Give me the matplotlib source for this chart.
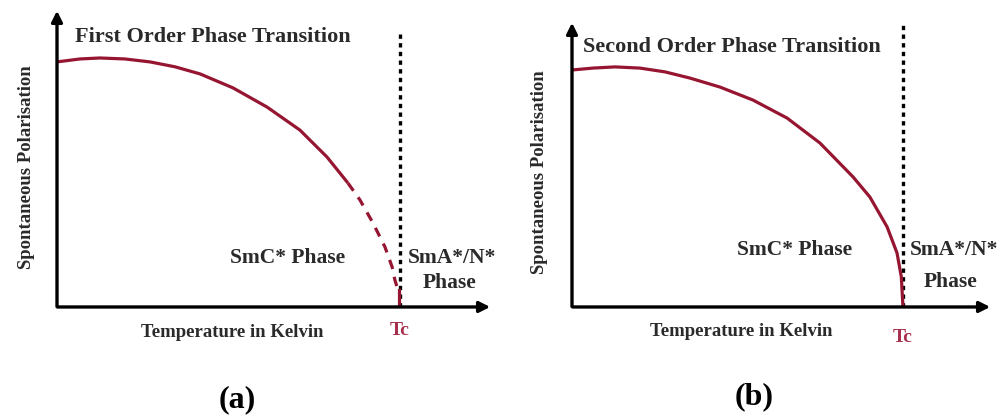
import matplotlib
matplotlib.use("Agg")
import matplotlib.pyplot as plt

plt.rcParams['font.family'] = ['Liberation Serif', 'DejaVu Serif']
plt.rcParams['font.weight'] = 'bold'

# curve samples: T / Tc  vs  Ps / Ps(0)
first_T_solid = [0.0, 0.067, 0.125, 0.198, 0.271, 0.344, 0.417, 0.513, 0.612, 0.708, 0.787, 0.848]
first_P_solid = [1.0, 1.012, 1.016, 1.012, 1.0, 0.980, 0.951, 0.894, 0.816, 0.722, 0.612, 0.506]
first_T_dash = [0.848, 0.883, 0.921, 0.956, 0.977, 0.985, 0.994]
first_P_dash = [0.506, 0.437, 0.343, 0.245, 0.163, 0.110, 0.069]
first_T_jump = [0.997, 0.997]
first_P_jump = [0.069, 0.0]

second_T = [0.0, 0.063, 0.130, 0.205, 0.281, 0.356, 0.447, 0.547, 0.650, 0.749,
            0.849, 0.900, 0.952, 0.982, 0.995, 1.0]
second_P = [1.0, 1.008, 1.013, 1.008, 0.992, 0.966, 0.928, 0.873, 0.797, 0.692,
            0.549, 0.464, 0.338, 0.228, 0.127, 0.0]

curve_col = '#961632'
tc_col = '#a8304c'
txt_col = '#2a2a2a'

fig = plt.figure(figsize=(10, 4.18), dpi=100)

def make_panel(rect, xmax, ymax, vline_top, title, title_x, title_y, lab_x, lab_y, tc_y, tag, tag_x, phase_y, phase2_y):
    ax = fig.add_axes(rect)
    ax.set_xlim(0, xmax)
    ax.set_ylim(0, ymax)
    ax.axis('off')
    # axes drawn as arrows
    ax.annotate('', xy=(xmax, 0), xytext=(-0.006, 0), annotation_clip=False,
                arrowprops=dict(arrowstyle='-|>', lw=2.4, color='black', mutation_scale=16))
    ax.annotate('', xy=(0, ymax), xytext=(0, -0.01), annotation_clip=False,
                arrowprops=dict(arrowstyle='-|>', lw=2.4, color='black', mutation_scale=16))
    ax.plot([1.0, 1.0], [0, vline_top], ls=(0, (1.3, 1.3)), lw=2.4, color='black', clip_on=False)
    ax.text(title_x, title_y, title, fontsize=16, color=txt_col, ha='left', va='center')
    ax.text(lab_x, lab_y, 'Spontaneous Polarisation', rotation=90, fontsize=13.5,
            color=txt_col, ha='center', va='center')
    ax.text(0.51, -0.105, 'Temperature in Kelvin', fontsize=13.5, color=txt_col,
            ha='center', va='center')
    ax.text(1.0, tc_y, 'Tc', fontsize=14, color=tc_col, ha='center', va='center')
    ax.text(0.671, phase_y, 'SmC* Phase', fontsize=15.5, color=txt_col, ha='center', va='center')
    ax.text(1.022, phase_y, 'SmA*/N*', fontsize=15.5, color=txt_col, ha='left', va='center')
    ax.text(1.145, phase2_y, 'Phase', fontsize=15.5, color=txt_col, ha='center', va='center')
    ax.text(tag_x, -0.38, tag, fontsize=23, color='black', ha='center', va='center')
    return ax

ax1 = make_panel([0.057, 0.2656, 0.436, 0.7153], 1.271, 1.220, 1.131,
                 'First Order Phase Transition', 0.052, 1.102, -0.09, 0.571, -0.094,
                 '(a)', 0.525, 0.20, 0.098)
ax1.plot(first_T_solid, first_P_solid, color=curve_col, lw=2.3, solid_capstyle='butt')
ax1.plot(first_T_dash, first_P_dash, color=curve_col, lw=2.3, ls=(0, (3, 2.5)))
ax1.plot(first_T_jump, first_P_jump, color=curve_col, lw=2.3)

ax2 = make_panel([0.572, 0.2656, 0.421, 0.6866], 1.272, 1.211, 1.203,
                 'Second Order Phase Transition', 0.033, 1.097, -0.097, 0.57, -0.127,
                 '(b)', 0.55, 0.24, 0.105)
ax2.plot(second_T, second_P, color=curve_col, lw=2.3)

fig.savefig('out.png', dpi=100, facecolor='white')
